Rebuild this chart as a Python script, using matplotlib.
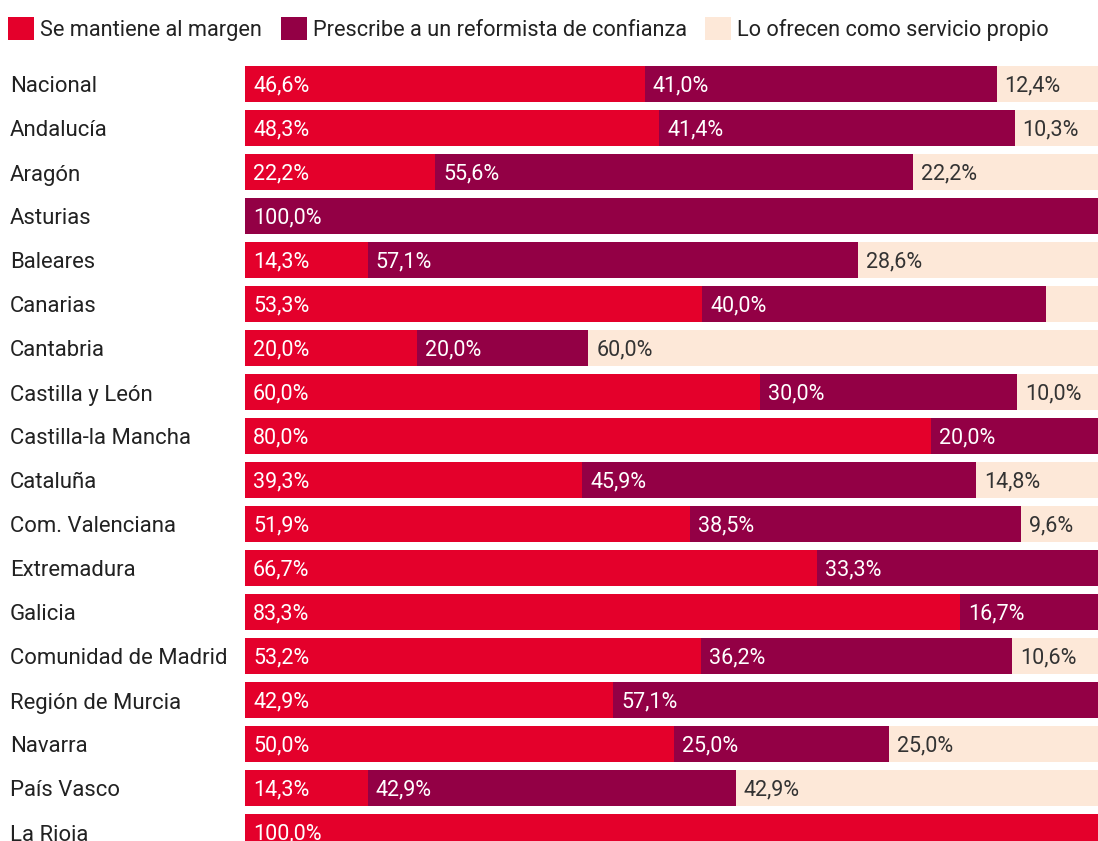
import matplotlib.pyplot as plt
from matplotlib.patches import Patch

plt.rcParams['font.family'] = ['Roboto', 'DejaVu Sans']

regions = ["Nacional", "Andalucía", "Aragón", "Asturias", "Baleares", "Canarias",
           "Cantabria", "Castilla y León", "Castilla-la Mancha", "Cataluña",
           "Com. Valenciana", "Extremadura", "Galicia", "Comunidad de Madrid",
           "Región de Murcia", "Navarra", "País Vasco", "La Rioja"]
margen = [46.6, 48.3, 22.2, 0.0, 14.3, 53.3, 20.0, 60.0, 80.0, 39.3,
          51.9, 66.7, 83.3, 53.2, 42.9, 50.0, 14.3, 100.0]
reformista = [41.0, 41.4, 55.6, 100.0, 57.1, 40.0, 20.0, 30.0, 20.0, 45.9,
              38.5, 33.3, 16.7, 36.2, 57.1, 25.0, 42.9, 0.0]
propio = [12.4, 10.3, 22.2, 0.0, 28.6, 6.7, 60.0, 10.0, 0.0, 14.8,
          9.6, 0.0, 0.0, 10.6, 0.0, 25.0, 42.9, 0.0]
series_names = ["Se mantiene al margen", "Prescribe a un reformista de confianza",
                "Lo ofrecen como servicio propio"]
colors = ["#E4002B", "#930045", "#FDE8D8"]
text_colors = ["white", "white", "#333333"]

W, H = 1098, 841
fig = plt.figure(figsize=(W / 100, H / 100), dpi=100)
# axes run past the right and bottom edges, so the last row is cut off
ax = fig.add_axes([245 / W, (H - 854) / H, 858 / W, 792 / H])

y = list(range(len(regions)))
left = [0.0] * len(regions)
for vals, col, tcol in zip([margen, reformista, propio], colors, text_colors):
    ax.barh(y, vals, left=left, height=0.82, color=col, linewidth=0)
    for i, v in enumerate(vals):
        if v >= 8:
            ax.annotate(f"{v:.1f}%".replace(".", ","), (left[i], i),
                        xytext=(8, -2), textcoords="offset pixels",
                        ha="left", va="center", color=tcol, fontsize=15.5)
    left = [a + b for a, b in zip(left, vals)]

ax.set_xlim(0, 100)
ax.set_ylim(len(regions) - 0.5, -0.5)
ax.axis("off")

for i, name in enumerate(regions):
    ax.annotate(name, (0, i), xycoords=("figure fraction", "data"),
                xytext=(10, -3), textcoords="offset pixels",
                ha="left", va="center", color="#222222", fontsize=15.9)

handles = [Patch(facecolor=c, edgecolor="none") for c in colors]
fig.legend(handles, series_names, loc="center left", bbox_to_anchor=(8 / W, 1 - 29 / H),
           ncol=3, frameon=False, fontsize=15.65, handlelength=1.2, handleheight=1.2,
           handletextpad=0.28, columnspacing=0.85, borderaxespad=0, borderpad=0,
           labelcolor="#222222")

fig.savefig("out.png", dpi=100)
